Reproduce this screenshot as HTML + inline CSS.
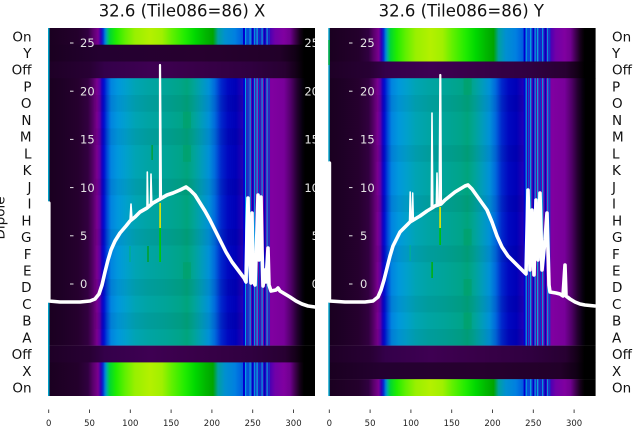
<!DOCTYPE html>
<html><head><meta charset="utf-8"><style>
html,body{margin:0;padding:0;background:#fff;}
svg{display:block;}
text{font-family:"DejaVu Sans","Liberation Sans",sans-serif;}
</style></head><body>
<svg width="640" height="440" viewBox="0 0 640 440" xmlns="http://www.w3.org/2000/svg">
<defs>
<linearGradient id="S" gradientUnits="userSpaceOnUse" x1="0" y1="0" x2="1000" y2="0">
<stop offset="0.048" stop-color="#1a0020"/>
<stop offset="0.062" stop-color="#1e0026"/>
<stop offset="0.078" stop-color="#26002e"/>
<stop offset="0.088" stop-color="#320040"/>
<stop offset="0.093" stop-color="#560068"/>
<stop offset="0.097" stop-color="#7a0090"/>
<stop offset="0.100" stop-color="#5a00a8"/>
<stop offset="0.102" stop-color="#1800c0"/>
<stop offset="0.104" stop-color="#0010d0"/>
<stop offset="0.107" stop-color="#0048d8"/>
<stop offset="0.111" stop-color="#0084e0"/>
<stop offset="0.118" stop-color="#0098dc"/>
<stop offset="0.126" stop-color="#00a0cc"/>
<stop offset="0.135" stop-color="#00a4b4"/>
<stop offset="0.148" stop-color="#00a4a4"/>
<stop offset="0.165" stop-color="#00a498"/>
<stop offset="0.180" stop-color="#00a48a"/>
<stop offset="0.187" stop-color="#00a47c"/>
<stop offset="0.194" stop-color="#00a498"/>
<stop offset="0.202" stop-color="#009cbc"/>
<stop offset="0.209" stop-color="#0090d8"/>
<stop offset="0.215" stop-color="#0068dc"/>
<stop offset="0.221" stop-color="#0028cc"/>
<stop offset="0.228" stop-color="#0008c0"/>
<stop offset="0.236" stop-color="#0000b8"/>
<stop offset="0.242" stop-color="#2000b4"/>
<stop offset="0.250" stop-color="#5a00a8"/>
<stop offset="0.260" stop-color="#7400a4"/>
<stop offset="0.272" stop-color="#8000a0"/>
<stop offset="0.284" stop-color="#78009a"/>
<stop offset="0.291" stop-color="#500068"/>
<stop offset="0.297" stop-color="#240030"/>
<stop offset="0.302" stop-color="#080010"/>
<stop offset="0.305" stop-color="#000000"/>
</linearGradient>
<linearGradient id="G" gradientUnits="userSpaceOnUse" x1="0" y1="0" x2="1000" y2="0">
<stop offset="0.048" stop-color="#1a0020"/>
<stop offset="0.078" stop-color="#24002c"/>
<stop offset="0.088" stop-color="#300040"/>
<stop offset="0.093" stop-color="#5a006c"/>
<stop offset="0.098" stop-color="#7a0090"/>
<stop offset="0.101" stop-color="#3000b8"/>
<stop offset="0.103" stop-color="#0030d0"/>
<stop offset="0.105" stop-color="#0080d8"/>
<stop offset="0.107" stop-color="#00b0a0"/>
<stop offset="0.110" stop-color="#00d830"/>
<stop offset="0.116" stop-color="#20ec00"/>
<stop offset="0.125" stop-color="#60f000"/>
<stop offset="0.135" stop-color="#98f000"/>
<stop offset="0.150" stop-color="#b4f000"/>
<stop offset="0.162" stop-color="#a0f000"/>
<stop offset="0.172" stop-color="#60f000"/>
<stop offset="0.185" stop-color="#20ec00"/>
<stop offset="0.195" stop-color="#00d800"/>
<stop offset="0.205" stop-color="#00b800"/>
<stop offset="0.213" stop-color="#00a400"/>
<stop offset="0.218" stop-color="#00a0a0"/>
<stop offset="0.225" stop-color="#0090d0"/>
<stop offset="0.235" stop-color="#0080e0"/>
<stop offset="0.242" stop-color="#0060e0"/>
<stop offset="0.268" stop-color="#3c00b8"/>
<stop offset="0.275" stop-color="#7000a8"/>
<stop offset="0.284" stop-color="#8000a0"/>
<stop offset="0.290" stop-color="#700090"/>
<stop offset="0.295" stop-color="#400050"/>
<stop offset="0.300" stop-color="#140018"/>
<stop offset="0.304" stop-color="#000000"/>
</linearGradient>
<linearGradient id="D" gradientUnits="userSpaceOnUse" x1="0" y1="0" x2="1000" y2="0">
<stop offset="0.048" stop-color="#1a0020"/>
<stop offset="0.100" stop-color="#240030"/>
<stop offset="0.200" stop-color="#27002f"/>
<stop offset="0.280" stop-color="#220029"/>
<stop offset="0.295" stop-color="#120016"/>
<stop offset="0.304" stop-color="#000000"/>
</linearGradient>
<linearGradient id="O" gradientUnits="userSpaceOnUse" x1="0" y1="0" x2="1000" y2="0">
<stop offset="0.048" stop-color="#1e0026"/>
<stop offset="0.090" stop-color="#280034"/>
<stop offset="0.105" stop-color="#34004a"/>
<stop offset="0.150" stop-color="#3e0052"/>
<stop offset="0.200" stop-color="#380048"/>
<stop offset="0.250" stop-color="#300040"/>
<stop offset="0.285" stop-color="#280032"/>
<stop offset="0.296" stop-color="#140018"/>
<stop offset="0.304" stop-color="#000000"/>
</linearGradient>
<g id="stripes">
<rect x="243" width="2" height="1" fill="#0000d0"/>
<rect x="245" width="1.2" height="1" fill="#00a0e0"/>
<rect x="247.5" width="1.2" height="1" fill="#0050e0"/>
<rect x="249.5" width="1.2" height="1" fill="#00a8e0"/>
<rect x="252" width="1.5" height="1" fill="#0000c8"/>
<rect x="254" width="1.2" height="1" fill="#0090e0"/>
<rect x="256.5" width="1.2" height="1" fill="#00b0e0"/>
<rect x="259" width="1.5" height="1" fill="#0030d0"/>
<rect x="261.5" width="1.2" height="1" fill="#00a0e0"/>
<rect x="264" width="1.5" height="1" fill="#0000c0"/>
<rect x="266.5" width="1.2" height="1" fill="#00a0e0"/>
<rect x="268.5" width="1.2" height="1" fill="#0040d0"/>
</g>
</defs>

<!-- LEFT PANEL -->
<g>
<rect x="48.5" y="28" width="266.5" height="17" fill="url(#G)"/>
<rect x="48.5" y="44.7" width="266.5" height="17" fill="url(#D)"/>
<rect x="48.5" y="61.5" width="266.5" height="17" fill="url(#O)"/>
<rect x="48.5" y="78.2" width="266.5" height="267.5" fill="url(#S)"/>
<rect x="48.5" y="345.6" width="266.5" height="17" fill="url(#O)"/>
<rect x="48.5" y="362.4" width="266.5" height="33.6" fill="url(#G)"/>
<g fill="#000" opacity="0.04">
<rect x="95" y="95" width="150" height="16.7"/>
<rect x="95" y="128.4" width="150" height="16.7"/>
<rect x="95" y="178.6" width="150" height="16.7"/>
<rect x="95" y="228.8" width="150" height="16.7"/>
<rect x="95" y="279" width="150" height="16.7"/>
<rect x="95" y="312.5" width="150" height="16.7"/>
</g>
<g fill="#00a060" opacity="0.45">
<rect x="183" y="111.7" width="8" height="16.7"/>
<rect x="183" y="145.1" width="8" height="16.7"/>
<rect x="183" y="262.2" width="8" height="16.7"/>
</g>
<use href="#stripes" transform="translate(0,28) scale(1,16.7)"/>
<use href="#stripes" transform="translate(0,78.2) scale(1,267.4)"/>
<use href="#stripes" transform="translate(0,362.4) scale(1,33.6)"/>
<rect x="48" y="28" width="1.5" height="368" fill="#00a0c8"/>
<rect x="159.3" y="203" width="1.6" height="25" fill="#e8e800"/>
<rect x="159.3" y="228" width="1.6" height="34" fill="#00c800"/>
<rect x="147.3" y="246" width="1.4" height="16" fill="#00a020"/>
<rect x="129.3" y="246" width="1.4" height="16" fill="#00b080" opacity="0.8"/>
<rect x="151.5" y="145" width="1.2" height="15" fill="#00a020"/>
<g fill="none" stroke="#fff" stroke-linejoin="round" stroke-linecap="round">
<polyline stroke-width="3.6" points="48.8,203 48.8,301 60,302 80,302 90,301 95,299 99,294 102,285 105,272 108,260 111,250 115,241 120,233 126,226 130,221 135,217 140,212 147,208 153,203 160,199 167,195 173,193 180,190 186,187 190,190 195,195 200,203 205,211 210,220 215,230 220,240 226,252 232,262 238,270 244,278 246,282 247,230 248,198 249,250 251,283 252,213 253,280 255,285 257,230 258,195 259,260 261,197 262,250 263,286 265,270 266,282 268,248 269,285 271,291 276,290 278,288 280,291 285,294 290,297 296,301 302,304 308,306 315,307"/>
<polyline stroke-width="2.2" points="160,200 160,65 161,199"/>
<polyline stroke-width="1.6" points="147,208 147.3,172 148,207"/>
<polyline stroke-width="1.6" points="150.5,205 151,174 151.8,205"/>
<polyline stroke-width="1.6" points="130,221 131,204 132,220"/>
</g>
<g fill="#e6e6e6" font-size="11.5">
<text x="80" y="47.2">25</text>
<text x="80" y="95.4">20</text>
<text x="80" y="143.6">15</text>
<text x="80" y="191.8">10</text>
<text x="80" y="240">5</text>
<text x="80" y="288.2">0</text>
</g>
<g stroke="#e6e6e6" stroke-width="1">
<line x1="70" y1="43" x2="73.5" y2="43"/>
<line x1="70" y1="91.2" x2="73.5" y2="91.2"/>
<line x1="70" y1="139.4" x2="73.5" y2="139.4"/>
<line x1="70" y1="187.6" x2="73.5" y2="187.6"/>
<line x1="70" y1="235.8" x2="73.5" y2="235.8"/>
<line x1="70" y1="284" x2="73.5" y2="284"/>
</g>
<g fill="#e6e6e6" font-size="11.5" text-anchor="end">
<text x="319" y="47.2">25</text>
<text x="319" y="95.4">20</text>
<text x="319" y="143.6">15</text>
<text x="319" y="191.8">10</text>
<text x="319" y="240">5</text>
<text x="319" y="288.2">0</text>
</g>
</g>

<rect x="315" y="20" width="13.3" height="385" fill="#fff"/>

<!-- RIGHT PANEL -->
<g transform="translate(280.6,0)">
<rect x="48.5" y="28" width="266.5" height="33.8" fill="url(#G)"/>
<rect x="48.5" y="61.5" width="266.5" height="17" fill="url(#O)"/>
<rect x="48.5" y="78.2" width="266.5" height="267.5" fill="url(#S)"/>
<rect x="48.5" y="345.6" width="266.5" height="17" fill="url(#O)"/>
<rect x="48.5" y="362.4" width="266.5" height="17" fill="url(#D)"/>
<rect x="48.5" y="379.2" width="266.5" height="16.8" fill="url(#G)"/>
<g fill="#000" opacity="0.04">
<rect x="95" y="95" width="150" height="16.7"/>
<rect x="95" y="145.1" width="150" height="16.7"/>
<rect x="95" y="195.3" width="150" height="16.7"/>
<rect x="95" y="245.5" width="150" height="16.7"/>
<rect x="95" y="295.7" width="150" height="16.7"/>
<rect x="95" y="329" width="150" height="16.7"/>
</g>
<g fill="#00a060" opacity="0.45">
<rect x="183" y="78.2" width="8" height="16.7"/>
<rect x="183" y="228.8" width="8" height="16.7"/>
<rect x="183" y="279" width="8" height="16.7"/>
<rect x="183" y="312.5" width="8" height="16.7"/>
</g>
<use href="#stripes" transform="translate(0,28) scale(1,33.5)"/>
<use href="#stripes" transform="translate(0,78.2) scale(1,267.4)"/>
<use href="#stripes" transform="translate(0,379.2) scale(1,16.8)"/>
<rect x="47.7" y="28" width="1.5" height="368" fill="#00a0c8"/>
<rect x="47.7" y="40" width="1.5" height="25" fill="#00b040"/>
</g>
<rect x="439.3" y="207" width="1.6" height="21" fill="#e8e800"/>
<rect x="439.3" y="228" width="1.6" height="17" fill="#00c000"/>
<rect x="431.4" y="262" width="1.4" height="16" fill="#00b000"/>
<rect x="409.5" y="245" width="1.4" height="16" fill="#00b090" opacity="0.8"/>
<g fill="none" stroke="#fff" stroke-linejoin="round" stroke-linecap="round">
<polyline stroke-width="3.6" points="329.4,163 329.4,301 345,302 365,302 373,301 378,297 381,290 384,280 387,268 390,256 393,246 397,238 400,232 404,228 408,224 410,222 420,216 427,211 432,208 435,206 438,205 441,204 445,200 450,196 455,192 460,189 465,186 468,185 472,189 477,196 482,203 487,210 492,222 497,236 502,247 508,256 514,262 520,268 526,274 528,190 530,270 532,210 534,275 536,200 538,260 540,193 542,270 545,240 547,213 549,285 550,292 556,293 560,294 563,296 565,265 566,296 570,299 575,302 580,304 585,305 595,306"/>
<polyline stroke-width="2.2" points="439.5,205 440.3,75 441,204"/>
<polyline stroke-width="1.6" points="431.3,208 432,113 432.8,208"/>
<polyline stroke-width="1.6" points="436.3,206 437,173 437.8,206"/>
<polyline stroke-width="1.5" points="409.5,222 410.2,192 411,222"/>
<polyline stroke-width="1.5" points="412,221 412.7,193 413.4,221"/>
</g>
<g fill="#e6e6e6" font-size="11.5">
<text x="360" y="47.2">25</text>
<text x="360" y="95.4">20</text>
<text x="360" y="143.6">15</text>
<text x="360" y="191.8">10</text>
<text x="360" y="240">5</text>
<text x="360" y="288.2">0</text>
</g>
<g stroke="#e6e6e6" stroke-width="1">
<line x1="349" y1="43" x2="352.5" y2="43"/>
<line x1="349" y1="91.2" x2="352.5" y2="91.2"/>
<line x1="349" y1="139.4" x2="352.5" y2="139.4"/>
<line x1="349" y1="187.6" x2="352.5" y2="187.6"/>
<line x1="349" y1="235.8" x2="352.5" y2="235.8"/>
<line x1="349" y1="284" x2="352.5" y2="284"/>
</g>

<text x="182" y="16.3" font-size="16.5" text-anchor="middle" fill="#111">32.6 (Tile086=86) X</text>
<text x="461.3" y="16.3" font-size="16.5" text-anchor="middle" fill="#111">32.6 (Tile086=86) Y</text>

<g font-size="13.5" fill="#111" text-anchor="end">
<text x="31.5" y="41.3">On</text>
<text x="31.5" y="58">Y</text>
<text x="31.5" y="74.7">Off</text>
<text x="31.5" y="91.5">P</text>
<text x="31.5" y="108.2">O</text>
<text x="31.5" y="124.9">N</text>
<text x="31.5" y="141.7">M</text>
<text x="31.5" y="158.4">L</text>
<text x="31.5" y="175.1">K</text>
<text x="31.5" y="191.8">J</text>
<text x="31.5" y="208.6">I</text>
<text x="31.5" y="225.3">H</text>
<text x="31.5" y="242">G</text>
<text x="31.5" y="258.8">F</text>
<text x="31.5" y="275.5">E</text>
<text x="31.5" y="292.2">D</text>
<text x="31.5" y="308.9">C</text>
<text x="31.5" y="325.7">B</text>
<text x="31.5" y="342.4">A</text>
<text x="31.5" y="359.1">Off</text>
<text x="31.5" y="375.9">X</text>
<text x="31.5" y="392.6">On</text>
</g>
<g font-size="13.5" fill="#111" text-anchor="start">
<text x="612" y="41.3">On</text>
<text x="612" y="58">Y</text>
<text x="612" y="74.7">Off</text>
<text x="612" y="91.5">P</text>
<text x="612" y="108.2">O</text>
<text x="612" y="124.9">N</text>
<text x="612" y="141.7">M</text>
<text x="612" y="158.4">L</text>
<text x="612" y="175.1">K</text>
<text x="612" y="191.8">J</text>
<text x="612" y="208.6">I</text>
<text x="612" y="225.3">H</text>
<text x="612" y="242">G</text>
<text x="612" y="258.8">F</text>
<text x="612" y="275.5">E</text>
<text x="612" y="292.2">D</text>
<text x="612" y="308.9">C</text>
<text x="612" y="325.7">B</text>
<text x="612" y="342.4">A</text>
<text x="612" y="359.1">Off</text>
<text x="612" y="375.9">X</text>
<text x="612" y="392.6">On</text>
</g>
<text transform="translate(4.3,218) rotate(-90)" font-size="13.5" fill="#111" text-anchor="middle">Dipole</text>

<g stroke="#333" stroke-width="0.9">
<line x1="48.7" y1="409.5" x2="48.7" y2="413"/>
<line x1="89.5" y1="409.5" x2="89.5" y2="413"/>
<line x1="130.3" y1="409.5" x2="130.3" y2="413"/>
<line x1="171.1" y1="409.5" x2="171.1" y2="413"/>
<line x1="211.9" y1="409.5" x2="211.9" y2="413"/>
<line x1="252.7" y1="409.5" x2="252.7" y2="413"/>
<line x1="293.5" y1="409.5" x2="293.5" y2="413"/>
<line x1="329.3" y1="409.5" x2="329.3" y2="413"/>
<line x1="370.1" y1="409.5" x2="370.1" y2="413"/>
<line x1="410.9" y1="409.5" x2="410.9" y2="413"/>
<line x1="451.7" y1="409.5" x2="451.7" y2="413"/>
<line x1="492.5" y1="409.5" x2="492.5" y2="413"/>
<line x1="533.3" y1="409.5" x2="533.3" y2="413"/>
<line x1="574.1" y1="409.5" x2="574.1" y2="413"/>
</g>
<g font-size="8.5" fill="#222" text-anchor="middle">
<text x="48.7" y="426">0</text>
<text x="89.5" y="426">50</text>
<text x="130.3" y="426">100</text>
<text x="171.1" y="426">150</text>
<text x="211.9" y="426">200</text>
<text x="252.7" y="426">250</text>
<text x="293.5" y="426">300</text>
<text x="329.3" y="426">0</text>
<text x="370.1" y="426">50</text>
<text x="410.9" y="426">100</text>
<text x="451.7" y="426">150</text>
<text x="492.5" y="426">200</text>
<text x="533.3" y="426">250</text>
<text x="574.1" y="426">300</text>
</g>
</svg>
</body></html>
